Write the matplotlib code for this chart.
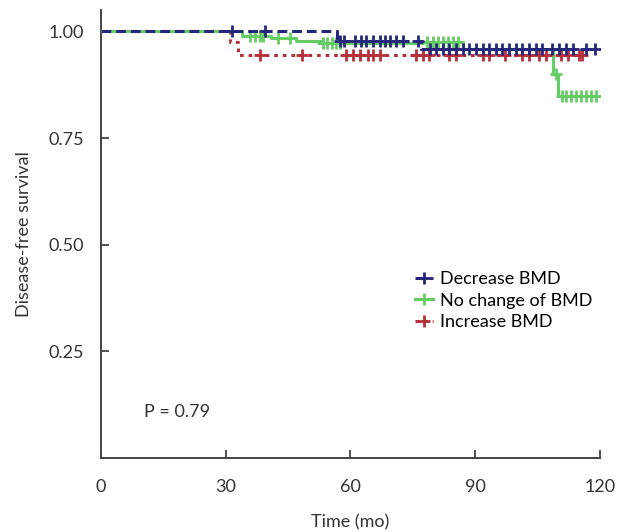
import numpy as np
import matplotlib
matplotlib.use("Agg")
import matplotlib.pyplot as plt

plt.rcParams['font.family'] = ['Lato', 'DejaVu Sans']

# Kaplan-Meier step data (time in months, survival)
dec_t = [0, 56.8, 77.0, 118.8]
dec_s = [1.0, 0.978, 0.958, 0.958]
dec_cens = [31.5, 39.4, 57.5, 58.6, 61.1, 62.5, 63.9, 65.5, 67.1, 68.3, 69.5, 71.1,
            72.6, 76.3, 79.1, 80.6, 82.2, 83.8, 85.4, 87.0, 88.6, 90.2, 91.8, 93.4,
            95.0, 96.6, 98.2, 99.8, 101.4, 103.0, 104.6, 106.2, 108.6, 110.2, 111.8,
            113.6, 116.8, 118.8]

noc_t = [0, 34.0, 41.0, 47.0, 53.0, 77.5, 87.0, 108.7, 110.0, 119.0]
noc_s = [1.0, 0.99, 0.985, 0.978, 0.972, 0.975, 0.958, 0.901, 0.849, 0.849]
noc_cens = [36.0, 37.0, 38.2, 39.0, 42.5, 45.5, 53.5, 54.5, 55.5, 56.5, 57.5,
            78.5, 79.8, 81.0, 82.2, 83.4, 84.6, 85.8, 109.5, 110.8, 112.0, 113.2,
            114.4, 115.6, 116.8, 118.0, 119.0]

inc_t = [0, 31.0, 33.0, 115.8]
inc_s = [1.0, 0.975, 0.945, 0.945]
inc_cens = [38.2, 48.3, 59.0, 60.6, 62.3, 64.2, 65.4, 67.1, 75.8, 77.4, 79.0,
            83.8, 85.4, 91.8, 93.4, 97.3, 101.3, 103.0, 105.4, 107.0, 110.7, 112.3,
            115.0, 115.8]

labels = ["Decrease BMD", "No change of BMD", "Increase BMD"]
colors = ["#25277a", "#66cc66", "#b5303a"]
styles = [(0, (3.2, 1.6)), "-", (0, (1.2, 1.6))]

xticks = [0, 30, 60, 90, 120]
yticks = [0.25, 0.50, 0.75, 1.00]

fig = plt.figure(figsize=(6.3, 5.32), dpi=100)
ax = fig.add_axes([0.160, 0.139, 0.792, 0.842])

def surv_at(ts, ss, x):
    idx = np.searchsorted(ts, x, side='right') - 1
    return np.array(ss)[idx]

groups = [(dec_t, dec_s, dec_cens), (noc_t, noc_s, noc_cens), (inc_t, inc_s, inc_cens)]
order = [2, 1, 0]
handles = [None] * 3
for i in order:
    ts, ss, cs = groups[i]
    ax.step(ts, ss, where='post', color=colors[i], lw=2.2, linestyle=styles[i],
            zorder=3 + (i == 0))
    cy = surv_at(ts, ss, np.array(cs))
    ax.plot(cs, cy, linestyle='none', marker='+', markersize=8, mew=2.0,
            color=colors[i], zorder=4 + (i == 0))
    h, = ax.plot([], [], color=colors[i], lw=2.2, linestyle=styles[i], marker='+',
                 markersize=8, mew=2.0)
    handles[i] = h

ax.set_xlim(0, 120)
ax.set_ylim(0, 1.05)
ax.set_xticks(xticks)
ax.set_xticklabels([str(v) for v in xticks])
ax.set_yticks(yticks)
ax.set_yticklabels([f"{v:.2f}" for v in yticks])
ax.tick_params(direction='in', length=6, width=1.2, labelsize=13, colors='#333333',
               pad=12)
ax.tick_params(axis='x', pad=15)
for s in ['top', 'right']:
    ax.spines[s].set_visible(False)
for s in ['left', 'bottom']:
    ax.spines[s].set_linewidth(1.4)
    ax.spines[s].set_color('#444444')

ax.set_xlabel("Time (mo)", fontsize=13, color='#333333', labelpad=14)
ax.set_ylabel("Disease-free survival", fontsize=13, color='#333333', labelpad=12)

ax.text(10.5, 0.108, "P = 0.79", fontsize=13, color='#333333', va='center')

ax.legend(handles, labels, loc='upper left', bbox_to_anchor=(0.615, 0.433),
          frameon=False, fontsize=13, handlelength=1.0, handletextpad=0.4,
          labelspacing=0.3, borderaxespad=0)

fig.savefig("out.png", dpi=100)
